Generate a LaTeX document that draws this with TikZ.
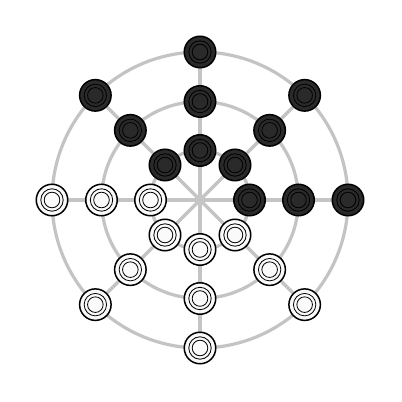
\documentclass[tikz,border=0pt]{standalone}
\usetikzlibrary{calc}
\definecolor{gridgray}{HTML}{C4C4C4}
\definecolor{blackpiece}{HTML}{2A2A2A}
\definecolor{whitepiece}{HTML}{FAFAFA}
\tikzset{
  gridline/.style={draw=gridgray,line width=3.2pt},
  piece/.style={circle,minimum size=31.5pt,inner sep=0pt,draw=black,line width=1.5pt},
  bpiece/.style={piece,fill=blackpiece},
  wpiece/.style={piece,fill=whitepiece},
  ring/.style={draw=black,line width=0.8pt},
}
\newcommand{\ringsOn}[1]{%
  \draw[ring] (#1) circle[radius=11.2pt];
  \draw[ring] (#1) circle[radius=7.8pt];}
\begin{document}
\begin{tikzpicture}[x=1pt,y=1pt]
\useasboundingbox[fill=white] (0,0) rectangle (402,402);
\coordinate (c) at (200,202);
% circles
\foreach \r in {148,98.5,49.5} \draw[gridline] (c) circle[radius=\r];
% spokes
\foreach \a in {0,45,...,315} \draw[gridline] (c) -- ++(\a:148);
% black pieces
\foreach \n/\a/\r in {b1/90/148,b2/90/98.5,b3/90/49.5,
  b4/135/148,b5/135/98.5,b6/135/49.5,
  b7/45/148,b8/45/98.5,b9/45/49.5,
  b10/0/49.5,b11/0/98.5,b12/0/148}{
  \node[bpiece] (\n) at ($(c)+(\a:\r)$) {};
  \ringsOn{\n}
}
% white pieces
\foreach \n/\a/\r in {w1/180/148,w2/180/98.5,w3/180/49.5,
  w4/225/49.5,w5/225/98.5,w6/225/148,
  w7/270/49.5,w8/270/98.5,w9/270/148,
  w10/315/49.5,w11/315/98.5,w12/315/148}{
  \node[wpiece] (\n) at ($(c)+(\a:\r)$) {};
  \ringsOn{\n}
}
\end{tikzpicture}
\end{document}
